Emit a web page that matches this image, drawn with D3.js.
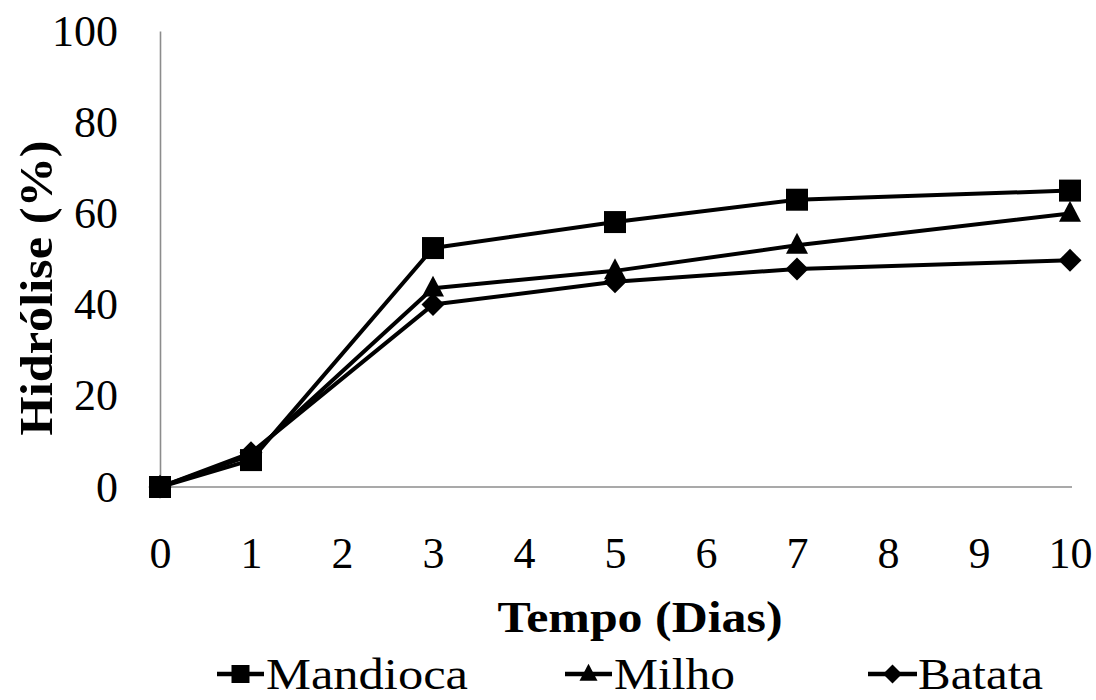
<!DOCTYPE html>
<html>
<head>
<meta charset="utf-8">
<script src="https://cdn.jsdelivr.net/npm/d3@7"></script>
<style>
  html, body { margin: 0; padding: 0; background: #fff; }
  svg { display: block; }
  text { font-family: "Liberation Serif", "Times New Roman", serif; fill: #000; }
</style>
</head>
<body>
<svg id="chart" width="1096" height="700"></svg>
<script>
const days = [0, 1, 3, 5, 7, 10];
const xTicks = [0, 1, 2, 3, 4, 5, 6, 7, 8, 9, 10];
const yTicks = [0, 20, 40, 60, 80, 100];
const seriesNames = ["Mandioca", "Milho", "Batata"];
const mandioca = [0, 5.9, 52.4, 58.1, 63.0, 65.0];
const milho = [0, 7.0, 43.6, 47.4, 53.0, 60.0];
const batata = [0, 7.5, 40.0, 45.0, 47.8, 49.7];
const xTitle = "Tempo (Dias)";
const yTitle = "Hidrólise (%)";

const svg = d3.select("#chart");
const x = d3.scaleLinear().domain([0, 10]).range([160, 1070]);
const y = d3.scaleLinear().domain([0, 100]).range([487, 31]);

const axisColor = "#8c8c8c";

// X axis
const gx = svg.append("g").attr("transform", `translate(0,${y(0)})`)
  .call(d3.axisBottom(x).tickValues(xTicks).tickFormat(d3.format("d")).tickSize(0).tickSizeOuter(0).tickPadding(50));
gx.select(".domain").attr("stroke", axisColor).attr("stroke-width", 1.6)
  .attr("d", `M${x(0)},0H${x(10) + 2}`);
gx.selectAll("text").attr("font-size", 44).attr("font-family", "Liberation Serif");

// Y axis
const gy = svg.append("g").attr("transform", `translate(${x(0)},0)`)
  .call(d3.axisLeft(y).tickValues(yTicks).tickFormat(d3.format("d")).tickSize(0).tickSizeOuter(0).tickPadding(42));
gy.select(".domain").attr("stroke", axisColor).attr("stroke-width", 1.6);
gy.selectAll("text").attr("font-size", 44).attr("font-family", "Liberation Serif");

// Titles
svg.append("text").attr("x", 640).attr("y", 632).attr("text-anchor", "middle")
  .attr("font-size", 45).attr("font-weight", "bold")
  .attr("textLength", 285).attr("lengthAdjust", "spacingAndGlyphs").text(xTitle);
svg.append("text").attr("transform", "translate(52,288) rotate(-90)").attr("text-anchor", "middle")
  .attr("font-size", 46).attr("font-weight", "bold")
  .attr("textLength", 295).attr("lengthAdjust", "spacingAndGlyphs").text(yTitle);

// Symbols
const triangle = { draw(ctx, size) { const w = Math.sqrt(size); const h = w * 0.95;
  ctx.moveTo(0, -h * 0.6); ctx.lineTo(w / 2, h * 0.4); ctx.lineTo(-w / 2, h * 0.4); ctx.closePath(); } };
const diamond = { draw(ctx, size) { const r = Math.sqrt(size) / 2;
  ctx.moveTo(0, -r); ctx.lineTo(r, 0); ctx.lineTo(0, r); ctx.lineTo(-r, 0); ctx.closePath(); } };
const square = { draw(ctx, size) { const r = Math.sqrt(size) / 2; ctx.rect(-r, -r, 2 * r, 2 * r); } };

const series = [
  { name: seriesNames[0], values: mandioca, sym: square, size: 22 * 22 },
  { name: seriesNames[1], values: milho, sym: triangle, size: 22 * 22 },
  { name: seriesNames[2], values: batata, sym: diamond, size: 23 * 23 }
];

const line = d3.line().x((d, i) => x(days[i])).y(d => y(d));

series.forEach(s => {
  svg.append("path").datum(s.values).attr("d", line)
    .attr("fill", "none").attr("stroke", "#000").attr("stroke-width", 4).attr("stroke-linejoin", "round");
});
series.forEach(s => {
  svg.append("g").selectAll("path").data(s.values).join("path")
    .attr("transform", (d, i) => `translate(${x(days[i])},${y(d)})`)
    .attr("d", d3.symbol().type(s.sym).size(s.size)).attr("fill", "#000");
});

// Legend
const legendPos = [{ x0: 217, x1: 264, tx: 266, tw: 202 }, { x0: 565, x1: 612, tx: 614, tw: 121 }, { x0: 868, x1: 917, tx: 918, tw: 125 }];
series.forEach((s, i) => {
  const p = legendPos[i];
  const g = svg.append("g");
  g.append("line").attr("x1", p.x0).attr("x2", p.x1).attr("y1", 674).attr("y2", 674)
    .attr("stroke", "#000").attr("stroke-width", 4.5);
  g.append("path").attr("transform", `translate(${(p.x0 + p.x1) / 2},674)`)
    .attr("d", d3.symbol().type(s.sym).size(s === series[2] ? 19 * 19 : 18 * 18)).attr("fill", "#000");
  g.append("text").attr("x", p.tx).attr("y", 689).attr("font-size", 45)
    .attr("textLength", p.tw).attr("lengthAdjust", "spacingAndGlyphs").text(s.name);
});
</script>
</body>
</html>
